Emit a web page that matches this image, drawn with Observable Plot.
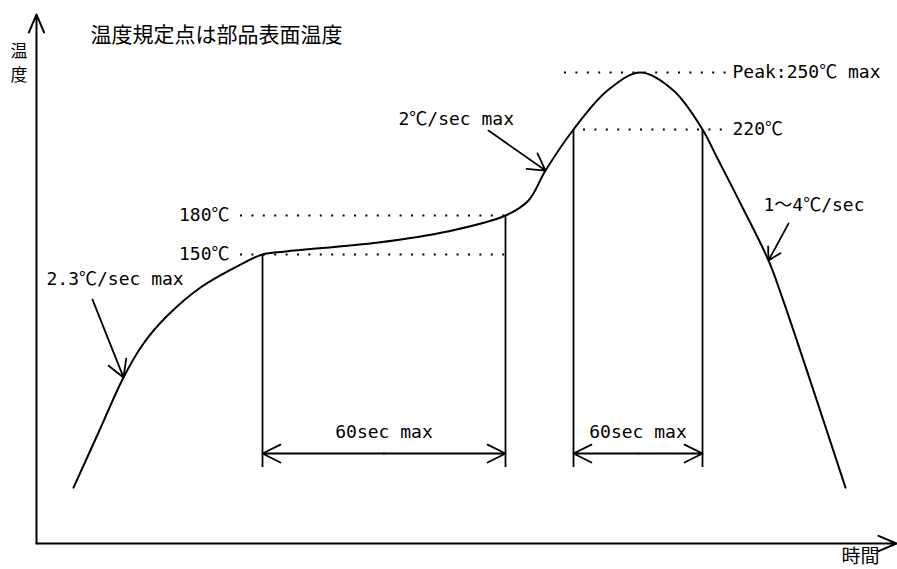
<!DOCTYPE html>
<html><head><meta charset="utf-8">
<script src="https://cdn.jsdelivr.net/npm/d3@7"></script>
<script src="https://cdn.jsdelivr.net/npm/@observablehq/plot@0.6"></script>
<style>html,body{margin:0;padding:0;background:#fff;overflow:hidden}</style>
</head><body><div id="chart"></div>
<script>
// Reflow profile (schematic): time [s], temperature [°C]
const profileTime = [18.5, 31, 43.5, 53.5, 65.5, 82, 102, 113, 124.5, 171, 205.5, 234.5, 246, 254.5, 268.5, 285.5, 302, 318.5, 333, 340.5, 352, 366, 373, 404.5];
const profileTemp = [29, 57.6, 86.2, 103.8, 118.3, 132.9, 144.8, 150, 152.3, 159.2, 167.7, 180, 187, 200.9, 220, 240.5, 250, 240.5, 220, 206.5, 185.6, 146.9, 127.2, 29];

// Reference temperature levels (dotted guides)
const levelTemp   = [150, 180, 220, 250];
const levelLabel  = ["150℃", "180℃", "220℃", "Peak:250℃ max"];
const levelSide   = ["left", "left", "right", "right"];
const levelStart  = [102, 102, 273.5, 264];
const levelEnd    = [234.5, 234.5, 345, 345];

// Time windows
const windowLabel = ["60sec max", "60sec max"];
const windowStart = [113, 268.5];
const windowEnd   = [234.5, 333];
const windowStartTemp = [150, 220];
const windowEndTemp   = [180, 220];
const windowBaseTemp  = 39.4;
const windowArrowTemp = 46.7;
const windowLabelTemp = 57.6;

// Ramp-rate annotations
const rateLabel     = ["2.3℃/sec max", "2℃/sec max", "1～4℃/sec"];
const rateLabelTime = [5, 181, 363.5];
const rateLabelTemp = [137, 225.3, 184.7];
const rateFromTime  = [28, 226, 376];
const rateFromTemp  = [126.6, 219.5, 173.8];
const rateToTime    = [43.5, 254.5, 366];
const rateToTemp    = [86.2, 200.9, 146.9];

const title = "温度規定点は部品表面温度";
const yLabel = "温\n度";
const xLabel = "時間";

// ---- build tables ----
const profile = profileTime.map((t, i) => ({t, T: profileTemp[i]}));
const levels = levelTemp.map((T, i) => ({T, label: levelLabel[i], side: levelSide[i], x1: levelStart[i], x2: levelEnd[i]}));
const verticals = [];
windowStart.forEach((s, i) => {
  verticals.push({t: s, top: windowStartTemp[i]});
  verticals.push({t: windowEnd[i], top: windowEndTemp[i]});
});
const windows = windowStart.map((s, i) => ({s, e: windowEnd[i], mid: (s + windowEnd[i]) / 2, label: windowLabel[i]}));
const halfArrows = windows.flatMap(w => [{x1: w.mid, x2: w.s}, {x1: w.mid, x2: w.e}]);
const rates = rateLabel.map((label, i) => ({label, lt: rateLabelTime[i], lT: rateLabelTemp[i],
  x1: rateFromTime[i], y1: rateFromTemp[i], x2: rateToTime[i], y2: rateToTemp[i]}));
const axes = [{x1: 0, y1: 0, x2: 0, y2: 280.5}, {x1: 0, y1: 0, x2: 430, y2: 0}];

const mono = "'DejaVu Sans Mono', 'Noto Sans CJK JP', monospace";
const cjk = "'Noto Sans CJK JP', sans-serif";

const chart = Plot.plot({
  width: 897,
  height: 569,
  margin: 0,
  x: {type: "linear", domain: [0, 430], range: [36, 896], axis: null},
  y: {type: "linear", domain: [0, 150, 180, 220, 250, 280], range: [543, 254, 215, 129, 72, 15], axis: null},
  style: {background: "#fff", color: "#000", overflow: "visible"},
  marks: [
    // axes with arrowheads
    Plot.arrow(axes, {x1: "x1", y1: "y1", x2: "x2", y2: "y2", stroke: "#000", strokeWidth: 2, headAngle: 46, headLength: 14.6}),
    // dotted guide levels
    Plot.ruleY(levels, {y: "T", x1: "x1", x2: "x2", stroke: "#000", strokeWidth: 2, strokeDasharray: "2 9.4"}),
    Plot.text(levels.filter(d => d.side === "left"), {x: "x1", y: "T", text: "label", dx: -11, textAnchor: "end", fontFamily: mono, fontSize: 18, fill: "#000"}),
    Plot.text(levels.filter(d => d.side === "right"), {x: "x2", y: "T", text: "label", dx: 6, textAnchor: "start", fontFamily: mono, fontSize: 18, fill: "#000"}),
    // window verticals
    Plot.ruleX(verticals, {x: "t", y1: "top", y2: windowBaseTemp, stroke: "#000", strokeWidth: 1.8}),
    // window double arrows
    Plot.arrow(halfArrows, {x1: "x1", x2: "x2", y1: windowArrowTemp, y2: windowArrowTemp, stroke: "#000", strokeWidth: 1.8, headAngle: 53, headLength: 16.7}),
    Plot.text(windows, {x: "mid", y: windowLabelTemp, text: "label", fontFamily: mono, fontSize: 18, fill: "#000"}),
    // profile curve
    Plot.line(profile, {x: "t", y: "T", curve: "catmull-rom", stroke: "#000", strokeWidth: 2}),
    // ramp-rate annotations
    Plot.arrow(rates, {x1: "x1", y1: "y1", x2: "x2", y2: "y2", stroke: "#000", strokeWidth: 1.8, headAngle: 60, headLength: 15.8}),
    Plot.text(rates, {x: "lt", y: "lT", text: "label", textAnchor: "start", fontFamily: mono, fontSize: 18, fill: "#000"}),
    // title & axis labels
    Plot.text([title], {frameAnchor: "top-left", dx: 90, dy: 35, text: d => d, textAnchor: "start", lineAnchor: "middle", fontFamily: cjk, fontSize: 21, fill: "#000"}),
    Plot.text([yLabel], {frameAnchor: "top-left", dx: 18.5, dy: 61, text: d => d, textAnchor: "middle", lineAnchor: "middle", lineHeight: 1.4, fontFamily: cjk, fontSize: 17, fill: "#000"}),
    Plot.text([xLabel], {frameAnchor: "top-left", dx: 860, dy: 556, text: d => d, textAnchor: "middle", lineAnchor: "middle", fontFamily: cjk, fontSize: 19, fill: "#000"})
  ]
});
document.getElementById("chart").append(chart);
</script>
</body></html>
